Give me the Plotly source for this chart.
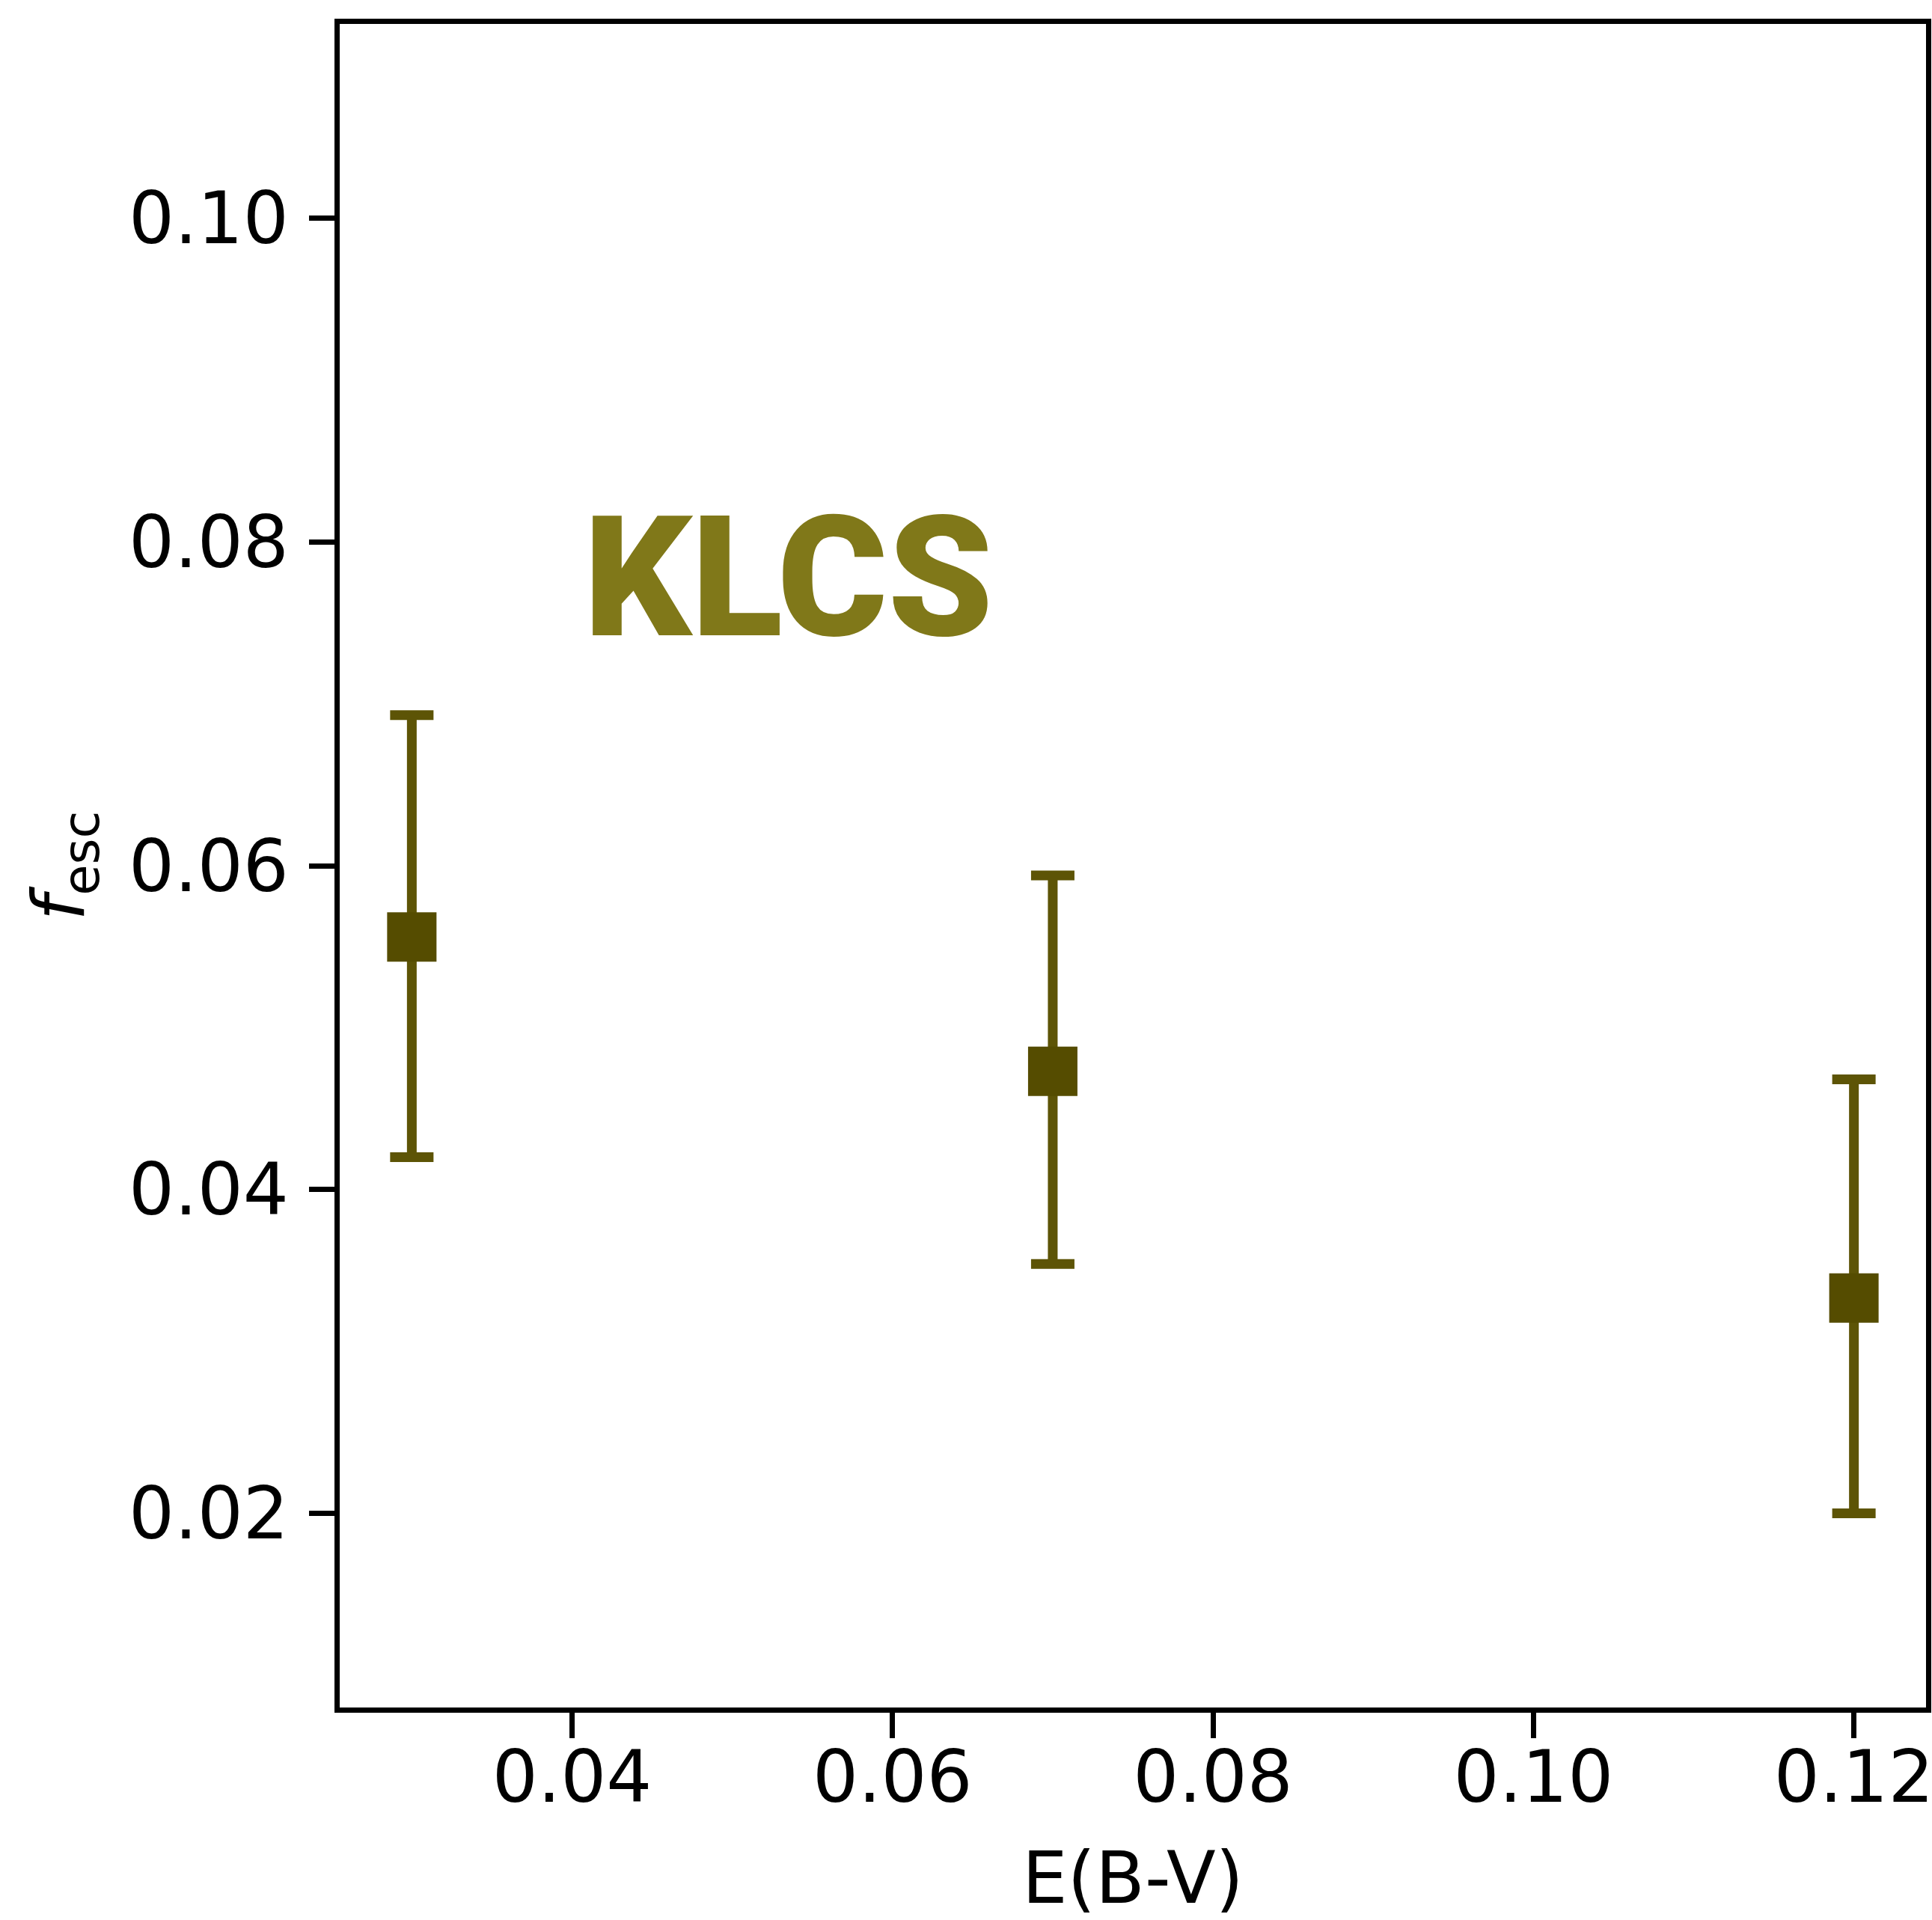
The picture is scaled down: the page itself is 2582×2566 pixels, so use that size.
import plotly.graph_objects as go

# Data
ebv = [0.03, 0.07, 0.12]
fesc = [0.0556, 0.0473, 0.0333]
err_plus = [0.0137, 0.0121, 0.0135]
err_minus = [0.0136, 0.0119, 0.0133]

x_ticks = [0.04, 0.06, 0.08, 0.10, 0.12]
y_ticks = [0.02, 0.04, 0.06, 0.08, 0.10]
x_range = [0.0255, 0.1245]
y_range = [0.008, 0.112]

W, H = 2582, 2566
L, R, T, B = 454, 8, 32, 284

marker_color = "#554c00"
err_color = "#5d5406"
label_color = "#807819"

fig = go.Figure()
fig.add_trace(go.Scatter(
    x=ebv, y=fesc, mode="markers",
    marker=dict(symbol="square", size=66, color=marker_color, line=dict(width=0)),
    error_y=dict(type="data", symmetric=False, array=err_plus, arrayminus=err_minus,
                 color=err_color, thickness=13, width=29),
    showlegend=False,
))

fig.add_annotation(
    text="<b>KLCS</b>", xref="paper", yref="paper", x=0.283, y=0.6711,
    xanchor="center", yanchor="middle", showarrow=False,
    font=dict(family="Roboto Black, Roboto", size=225, color=label_color, weight=900),
)

axis_common = dict(
    showline=True, linewidth=7, linecolor="black", mirror=True,
    ticks="outside", ticklen=34, tickwidth=7, tickcolor="black",
    showgrid=False, zeroline=False, automargin=False,
    ticklabeloverflow="allow",
    tickfont=dict(family="DejaVu Sans", size=96, color="black"),
    tickformat=".2f",
)

fig.update_xaxes(
    range=x_range, tickvals=x_ticks, **axis_common,
    ticklabelstandoff=-30,
    title=dict(text="E(B-V)", font=dict(family="DejaVu Sans", size=96, color="black"), standoff=66),
)
fig.update_yaxes(
    range=y_range, tickvals=y_ticks, **axis_common,
    ticklabelstandoff=8,
    title=dict(text="<i>f</i><sub>esc</sub>", font=dict(family="DejaVu Sans", size=96, color="black"), standoff=30),
)

fig.update_layout(
    width=W, height=H,
    margin=dict(l=L, r=R, t=T, b=B, pad=0),
    paper_bgcolor="white", plot_bgcolor="white",
)

fig.write_html("out.html")
